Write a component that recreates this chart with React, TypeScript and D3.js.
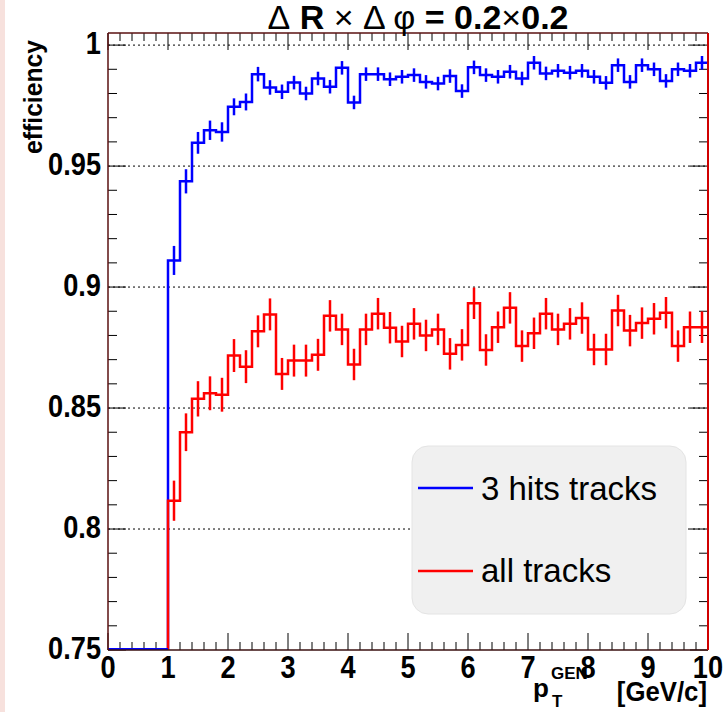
import React from "react";
import * as d3 from "d3";

const binEdgesStart = 0;
const binWidth = 0.2;
const nBins = 50;

const hits3Values = [
  0, 0, 0, 0, 0,
  0.911, 0.9437, 0.9596, 0.9648, 0.9641, 0.9745, 0.9765, 0.988, 0.9825, 0.9807,
  0.9845, 0.98, 0.9862, 0.9828, 0.9906, 0.9763, 0.988, 0.988, 0.9859, 0.9869,
  0.9876, 0.9848, 0.9841, 0.9872, 0.981, 0.9908, 0.9876, 0.9869, 0.989, 0.9862,
  0.9927, 0.9883, 0.9894, 0.9886, 0.9894, 0.9869, 0.9844, 0.9917, 0.9848, 0.9917,
  0.99, 0.9852, 0.99, 0.9894, 0.9927,
];
const hits3Errors = [
  0, 0, 0, 0, 0,
  0.006, 0.005, 0.0045, 0.004, 0.004, 0.0035, 0.0035, 0.003, 0.003, 0.003,
  0.0028, 0.0028, 0.0028, 0.0028, 0.0028, 0.0028, 0.0028, 0.0028, 0.0028, 0.0028,
  0.0028, 0.0028, 0.0028, 0.0028, 0.0028, 0.0028, 0.0028, 0.0028, 0.0028, 0.0028,
  0.0028, 0.0028, 0.0028, 0.0028, 0.0028, 0.0028, 0.0028, 0.0028, 0.0028, 0.0028,
  0.0028, 0.0028, 0.0028, 0.0028, 0.0028,
];
const allValues = [
  0, 0, 0, 0, 0,
  0.8117, 0.84, 0.8538, 0.8561, 0.8555, 0.8717, 0.8671, 0.8817, 0.8887, 0.8641,
  0.8696, 0.8696, 0.872, 0.8881, 0.8825, 0.868, 0.8825, 0.889, 0.8832, 0.8775,
  0.8848, 0.88, 0.8825, 0.8724, 0.8761, 0.8933, 0.874, 0.8834, 0.8914, 0.8756,
  0.8809, 0.889, 0.8825, 0.8848, 0.8872, 0.8742, 0.8742, 0.8903, 0.882, 0.8851,
  0.8869, 0.8894, 0.8756, 0.8834, 0.8834,
];
const allErrors = [
  0, 0, 0, 0, 0,
  0.0083, 0.0078, 0.0073, 0.007, 0.007, 0.0068, 0.0068, 0.0066, 0.0066, 0.0066,
  0.0066, 0.0066, 0.0066, 0.0065, 0.0065, 0.0065, 0.0065, 0.0065, 0.0065, 0.0065,
  0.0065, 0.0065, 0.0065, 0.0065, 0.0065, 0.0065, 0.0065, 0.0065, 0.0065, 0.0065,
  0.0065, 0.0065, 0.0065, 0.0065, 0.0065, 0.0065, 0.0065, 0.0065, 0.0065, 0.0065,
  0.0065, 0.0065, 0.0065, 0.0065, 0.0065,
];

const xTickValues = [0, 1, 2, 3, 4, 5, 6, 7, 8, 9, 10];
const yTickValues = [0.75, 0.8, 0.85, 0.9, 0.95, 1];
const yTickLabels = ["0.75", "0.8", "0.85", "0.9", "0.95", "1"];
const gridValues = [0.8, 0.85, 0.9, 0.95, 1];
const legendLabels = ["3 hits tracks", "all tracks"];
const seriesColors = ["#0000ff", "#ff0000"];

const W = 728;
const H = 712;
const L = 108;
const R = 708;
const T = 33;
const B = 650;
const FONT = "'Liberation Sans', Arial, Helvetica, sans-serif";
const SX = 0.85;

export default function App() {
  const x = d3.scaleLinear().domain([0, 10]).range([L, R]);
  const y = d3.scaleLinear().domain([0.75, 1.005]).range([B, T]);
  const yMin = 0.75;

  const stepPath = (vals: number[], skipZeros: boolean) => {
    let d = "";
    let started = false;
    for (let i = 0; i < nBins; i++) {
      const x0 = binEdgesStart + i * binWidth;
      const x1 = x0 + binWidth;
      const v = Math.max(vals[i], yMin);
      if (skipZeros && vals[i] <= yMin) continue;
      if (!started) {
        d += `M${x(x0)},${y(yMin)}V${y(v)}H${x(x1)}`;
        started = true;
      } else {
        d += `V${y(v)}H${x(x1)}`;
      }
    }
    return d;
  };

  const errorBars = (vals: number[], errs: number[], color: string, key: string) =>
    vals.map((v, i) => {
      if (v <= yMin || errs[i] <= 0) return null;
      const xc = binEdgesStart + (i + 0.5) * binWidth;
      return (
        <line
          key={key + i}
          x1={x(xc)}
          x2={x(xc)}
          y1={y(v - errs[i])}
          y2={y(v + errs[i])}
          stroke={color}
          strokeWidth={2.5}
        />
      );
    });

  const xMinor = d3.range(0, 10.001, 0.2);
  const yMinor = d3.range(0.75, 1.0051, 0.01);

  return (
    <svg
      width={W}
      height={H}
      style={{ position: "absolute", left: 0, top: 0, background: "#fff" }}
      fontFamily={FONT}
    >
      <rect x={0} y={0} width={W} height={H} fill="#ffffff" />
      <rect x={0} y={0} width={5} height={H} fill="#f7e1dd" />
      <defs>
        <clipPath id="frameClip">
          <rect x={L} y={T} width={R - L} height={B - T} />
        </clipPath>
      </defs>

      {/* grid */}
      {gridValues.map((g) => (
        <line
          key={"g" + g}
          x1={L}
          x2={R}
          y1={y(g)}
          y2={y(g)}
          stroke="#000"
          strokeWidth={1}
          strokeDasharray="2,3"
        />
      ))}

      {/* ticks */}
      {xMinor.map((t, i) => {
        const major = Math.abs(t - Math.round(t)) < 1e-6;
        const len = major ? 17 : 8;
        return (
          <g key={"xt" + i}>
            <line x1={x(t)} x2={x(t)} y1={B} y2={B - len} stroke="#000" strokeWidth={1} />
            <line x1={x(t)} x2={x(t)} y1={T} y2={T + len} stroke="#000" strokeWidth={1} />
          </g>
        );
      })}
      {yMinor.map((t, i) => {
        const major = Math.abs(t * 20 - Math.round(t * 20)) < 1e-6;
        const len = major ? 18 : 9;
        return (
          <g key={"yt" + i}>
            <line x1={L} x2={L + len} y1={y(t)} y2={y(t)} stroke="#000" strokeWidth={1} />
            <line x1={R} x2={R - len} y1={y(t)} y2={y(t)} stroke="#000" strokeWidth={1} />
          </g>
        );
      })}

      {/* legend */}
      <rect x={412} y={446} width={274} height={168} rx={16} ry={16} fill="#f0f0f0" stroke="#e4e4e4" strokeWidth={1} />
      {legendLabels.map((lab, i) => (
        <g key={"lg" + i}>
          <line
            x1={418}
            x2={473}
            y1={488 + i * 83}
            y2={488 + i * 83}
            stroke={seriesColors[i]}
            strokeWidth={2.5}
          />
          <text x={481} y={500 + i * 82} fontSize={33} fill="#000">
            {lab}
          </text>
        </g>
      ))}

      {/* histograms */}
      <g clipPath="url(#frameClip)">
        <path d={stepPath(hits3Values, false)} fill="none" stroke={seriesColors[0]} strokeWidth={2.5} />
        {errorBars(hits3Values, hits3Errors, seriesColors[0], "b")}
        <path d={stepPath(allValues, true)} fill="none" stroke={seriesColors[1]} strokeWidth={2.5} />
        {errorBars(allValues, allErrors, seriesColors[1], "r")}
      </g>
      <line x1={L} x2={x(1)} y1={B - 1} y2={B - 1} stroke={seriesColors[0]} strokeWidth={2} />

      {/* frame */}
      <line x1={L} x2={R} y1={T} y2={T} stroke="#5a1010" strokeWidth={1.5} />
      <line x1={L} x2={L} y1={T} y2={B} stroke="#5a1010" strokeWidth={1.5} />
      <line x1={L} x2={R} y1={B} y2={B} stroke="#3a1010" strokeWidth={1.5} />
      <line x1={R} x2={R} y1={T} y2={B} stroke="#d00000" strokeWidth={2} />

      {/* axis labels */}
      {xTickValues.map((t) => (
        <text
          key={"xl" + t}
          transform={`translate(${x(t)},678) scale(${SX},1)`}
          textAnchor="middle"
          fontSize={32}
          fontWeight="bold"
        >
          {t}
        </text>
      ))}
      {yTickValues.map((t, i) => (
        <text
          key={"yl" + t}
          transform={`translate(101,${y(t) + 9}) scale(${SX},1)`}
          textAnchor="end"
          fontSize={32}
          fontWeight="bold"
        >
          {yTickLabels[i]}
        </text>
      ))}

      {/* y title */}
      <text
        transform={`translate(42,40) rotate(-90) scale(0.95,1)`}
        textAnchor="end"
        fontSize={26}
        fontWeight="bold"
      >
        efficiency
      </text>

      {/* x title */}
      <text x={533} y={697} fontSize={26} fontWeight="bold">p</text>
      <text x={552} y={707} fontSize={17} fontWeight="bold">T</text>
      <text x={551} y={679} fontSize={17} fontWeight="bold">GEN</text>
      <text
        transform={`translate(707,701) scale(0.92,1)`}
        textAnchor="end"
        fontSize={28}
        fontWeight="bold"
      >
        [GeV/c]
      </text>

      {/* title */}
      <text x={418} y={29} textAnchor="middle" fontSize={34}>
        <tspan>Δ</tspan>
        <tspan fontWeight="bold"> R </tspan>
        <tspan>×</tspan>
        <tspan> Δ φ </tspan>
        <tspan fontWeight="bold">= 0.2</tspan>
        <tspan>×</tspan>
        <tspan fontWeight="bold">0.2</tspan>
      </text>
    </svg>
  );
}
